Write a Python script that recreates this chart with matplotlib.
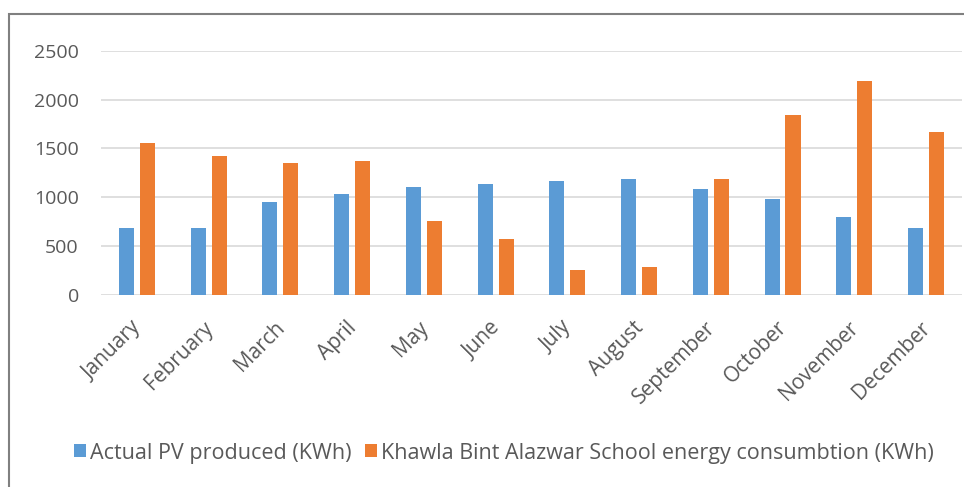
import matplotlib
matplotlib.use("Agg")
import matplotlib.pyplot as plt
import numpy as np
from matplotlib.patches import Rectangle
from matplotlib.transforms import ScaledTranslation

months = ["January", "February", "March", "April", "May", "June", "July",
          "August", "September", "October", "November", "December"]
pv_produced = [684, 684, 952, 1037, 1102, 1136, 1170, 1187, 1085, 986, 803, 684]
consumption = [1554, 1418, 1354, 1371, 752, 568, 252, 286, 1187, 1837, 2190, 1670]
yticks = [0, 500, 1000, 1500, 2000, 2500]
series_names = ["Actual PV produced (KWh)",
                "Khawla Bint Alazwar School energy consumbtion (KWh)"]

plt.rcParams['font.family'] = ['Open Sans', 'DejaVu Sans']
blue = "#5B9BD5"
orange = "#ED7D31"
txt = "#595959"

fig = plt.figure(figsize=(9.64, 4.87), dpi=100)
ax = fig.add_axes([0.1048, 0.3943, 0.893, 0.5016])

x = np.arange(len(months))
w = 0.21
off = 0.146
b1 = ax.bar(x - off, pv_produced, w, color=blue, label=series_names[0], zorder=3)
b2 = ax.bar(x + off, consumption, w, color=orange, label=series_names[1], zorder=3)

ax.set_xlim(-0.5, len(months) - 0.5)
ax.set_ylim(0, 2500)
ax.set_yticks(yticks)
ax.set_yticklabels([str(v) for v in yticks], fontsize=14, color=txt)
ax.yaxis.grid(True, color="#d9d9d9", linewidth=1.2, zorder=0)
ax.set_axisbelow(True)
for s in ax.spines.values():
    s.set_visible(False)
ax.tick_params(axis='both', length=0)
ax.tick_params(axis='y', pad=16)
ax.set_xticks(x)
ax.set_xticklabels(months, rotation=45, ha='right', rotation_mode='anchor',
                   fontsize=15, color=txt)
ax.tick_params(axis='x', pad=16)
shift = ScaledTranslation(-6/100, 0, fig.dpi_scale_trans)
for lab in ax.get_xticklabels():
    lab.set_transform(lab.get_transform() + shift)

# outer chart border
fig.add_artist(Rectangle((9/964, -0.05), 1.2, (487 - 14)/487 + 0.05,
                         transform=fig.transFigure, fill=False,
                         edgecolor="#808080", linewidth=1.5, clip_on=False))

leg = fig.legend(handles=[b1, b2], labels=series_names, loc='center',
                 bbox_to_anchor=(504/964, 1 - 453/487), ncol=2, frameon=False,
                 fontsize=15.5, handlelength=0.55, handleheight=0.55,
                 handletextpad=0.2, columnspacing=0.6, labelcolor=txt)

fig.savefig("out.png", dpi=100)
